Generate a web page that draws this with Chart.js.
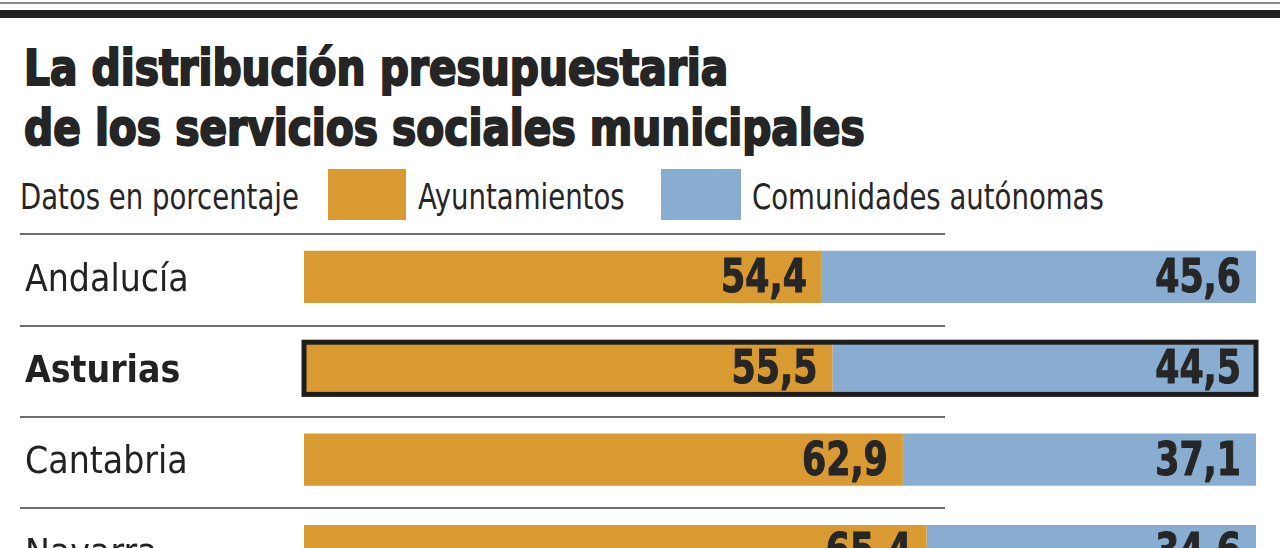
<!DOCTYPE html>
<html>
<head>
<meta charset="utf-8">
<script src="https://cdn.jsdelivr.net/npm/chart.js@4.4.1/dist/chart.umd.min.js"></script>
<style>
  body { margin: 0; width: 1280px; height: 548px; overflow: hidden; background: #fff; position: relative; color: #222; }
  .rule1 { position: absolute; left: 0; top: 2px; width: 1280px; height: 2px; background: #8a8a8a; }
  .rule2 { position: absolute; left: 0; top: 10px; width: 1280px; height: 8px; background: #1f1f1f; }
  .title { position: absolute; left: 24px; top: 38px; font-family: "DejaVu Sans Condensed", "DejaVu Sans", sans-serif;
           font-weight: bold; font-size: 50px; line-height: 60px; color: #252525; -webkit-text-stroke: 2px #252525; }
  .title span { display: inline-block; transform: scaleX(0.905); transform-origin: left center; white-space: nowrap; }
  .legend { position: absolute; top: 169px; left: 0; height: 51px; font-family: "DejaVu Sans Condensed", sans-serif; font-size: 35px; color: #262626; }
  .legend .txt { position: absolute; top: 8px; white-space: nowrap; transform: scaleX(0.875); transform-origin: left center; }
  .legend .box { position: absolute; top: 0; height: 51px; }
  #wrap { position: absolute; left: 0; top: 209px; width: 1280px; height: 410px; }
</style>
</head>
<body>
<div class="rule1"></div>
<div class="rule2"></div>
<div class="title"><span>La distribución presupuestaria</span><br><span>de los servicios sociales municipales</span></div>
<div class="legend">
  <div class="txt" style="left:20px">Datos en porcentaje</div>
  <div class="box" style="left:328px;width:78px;background:#d99a32"></div>
  <div class="txt" style="left:418px">Ayuntamientos</div>
  <div class="box" style="left:661px;width:80px;background:#89acd1"></div>
  <div class="txt" style="left:752px">Comunidades autónomas</div>
</div>
<div id="wrap"><canvas id="chart" width="1280" height="410"></canvas></div>
<script>
const regiones = ['Andalucía', 'Asturias', 'Cantabria', 'Navarra'];
const ayuntamientos = [54.4, 55.5, 62.9, 65.4];
const comunidades = [45.6, 44.5, 37.1, 34.6];
const destacada = 'Asturias';

const narrow = '"DejaVu Sans Condensed", sans-serif';

// lineas de separacion entre filas
const separadores = {
  id: 'separadores',
  beforeDatasetsDraw(chart) {
    const ctx = chart.ctx, y = chart.scales.y;
    const paso = y.getPixelForValue(1) - y.getPixelForValue(0);
    ctx.save();
    ctx.strokeStyle = '#6e6e6e';
    ctx.lineWidth = 2;
    regiones.forEach((r, i) => {
      const py = Math.round(y.getPixelForValue(i) - paso / 2 + 3);
      ctx.beginPath();
      ctx.moveTo(20, py);
      ctx.lineTo(945, py);
      ctx.stroke();
    });
    ctx.restore();
  }
};

// valores y recuadro de la fila destacada
const valores = {
  id: 'valores',
  afterDatasetsDraw(chart) {
    const ctx = chart.ctx;
    ctx.save();
    ctx.fillStyle = '#262626';
    ctx.strokeStyle = '#262626';
    ctx.lineWidth = 1;
    ctx.font = 'bold 46px ' + narrow;
    ctx.textAlign = 'right';
    ctx.textBaseline = 'middle';
    const sx = 0.84;
    chart.data.datasets.forEach((ds, d) => {
      chart.getDatasetMeta(d).data.forEach((bar, i) => {
        const txt = ds.data[i].toFixed(1).replace('.', ',');
        ctx.save();
        ctx.translate(bar.x - 15, bar.y + 3);
        ctx.scale(sx, 1);
        ctx.fillText(txt, 0, 0);
        ctx.strokeText(txt, 0, 0);
        ctx.restore();
      });
    });
    const i = regiones.indexOf(destacada);
    const a = chart.getDatasetMeta(0).data[i], b = chart.getDatasetMeta(1).data[i];
    ctx.strokeStyle = '#1e1e1e';
    ctx.lineWidth = 5;
    ctx.strokeRect(a.base, a.y - a.height / 2, b.x - a.base, a.height);
    ctx.restore();
  }
};

new Chart(document.getElementById('chart'), {
  type: 'bar',
  data: {
    labels: regiones,
    datasets: [
      { label: 'Ayuntamientos', data: ayuntamientos, backgroundColor: '#d99a32' },
      { label: 'Comunidades autónomas', data: comunidades, backgroundColor: '#89acd1' }
    ]
  },
  options: {
    indexAxis: 'y',
    responsive: false,
    animation: false,
    barPercentage: 0.571,
    categoryPercentage: 1,
    layout: { padding: { left: 25, right: 24, top: 0, bottom: 0 } },
    scales: {
      x: { stacked: true, min: 0, max: 100, display: false },
      y: {
        stacked: true,
        grid: { display: false },
        border: { display: false },
        afterFit: s => { s.width = 279; },
        ticks: {
          crossAlign: 'far',
          padding: 0,
          labelOffset: 4,
          color: '#222',
          font: c => ({ family: narrow, size: 37, lineHeight: 1.2, weight: regiones[c.index] === destacada ? 'bold' : 'normal' })
        }
      }
    },
    plugins: { legend: { display: false }, tooltip: { enabled: false } }
  },
  plugins: [separadores, valores]
});
</script>
</body>
</html>
